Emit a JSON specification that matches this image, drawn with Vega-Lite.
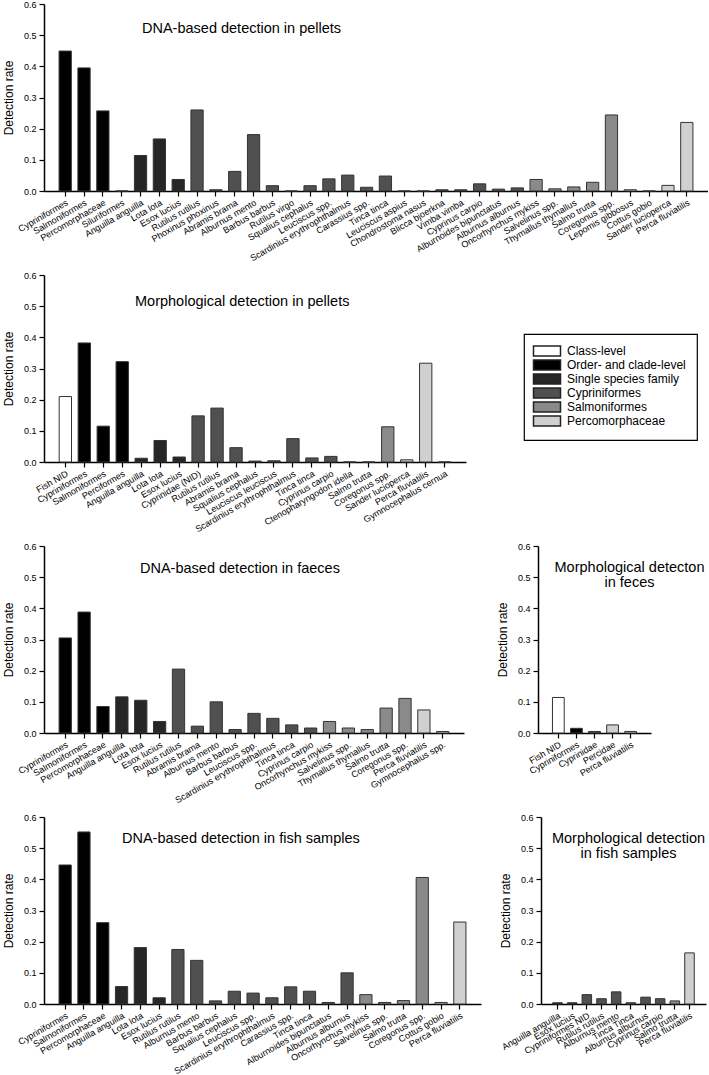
{
"$schema": "https://vega.github.io/schema/vega-lite/v6.json",
"autosize": {"type": "pad"},
"padding": {"left": 2, "top": 0, "right": 0, "bottom": 0},
"background": "white",
"spacing": 8,
"config": {
  "font": "Liberation Sans",
  "view": {"stroke": null},
  "scale": {"bandPaddingInner": 0.35, "bandPaddingOuter": 0.8},
  "axis": {"domainColor": "black", "domainWidth": 1.5, "tickColor": "black", "tickWidth": 1.2, "tickSize": 5, "labelFont": "Liberation Sans", "labelFontSize": 9, "labelColor": "black", "titleFont": "Liberation Sans", "titleFontSize": 12, "titleFontWeight": "normal", "titleColor": "black", "grid": false},
  "axisX": {"labelAngle": -30, "labelPadding": 2},
  "axisY": {"titlePadding": 8, "labelPadding": 3},
  "title": {"font": "Liberation Sans", "fontSize": 14.5, "fontWeight": "normal", "color": "black", "frame": "group", "baseline": "top", "lineHeight": 15},
  "legend": {"strokeColor": "black", "strokeWidth": 1.2, "padding": 11, "fillColor": "white", "symbolType": "M-2.7,-1H2.7V1H-2.7Z", "symbolSize": 100, "symbolOffset": 6, "symbolStrokeColor": "#222", "symbolStrokeWidth": 1.5, "symbolOpacity": 1, "labelFont": "Liberation Sans", "labelFontSize": 12, "labelColor": "black", "labelOffset": 14, "rowPadding": -4, "titleFontSize": 0}
},
"datasets": {
  "p1": [
    {"taxon": "Cypriniformes", "rate": 0.449, "group": "Order- and clade-level"},
    {"taxon": "Salmoniformes", "rate": 0.395, "group": "Order- and clade-level"},
    {"taxon": "Percomorphaceae", "rate": 0.257, "group": "Order- and clade-level"},
    {"taxon": "Siluriformes", "rate": 0, "group": "Order- and clade-level"},
    {"taxon": "Anguilla anguilla", "rate": 0.114, "group": "Single species family"},
    {"taxon": "Lota lota", "rate": 0.167, "group": "Single species family"},
    {"taxon": "Esox lucius", "rate": 0.037, "group": "Single species family"},
    {"taxon": "Rutilus rutilus", "rate": 0.26, "group": "Cypriniformes"},
    {"taxon": "Phoxinus phoxinus", "rate": 0.004, "group": "Cypriniformes"},
    {"taxon": "Abramis brama", "rate": 0.063, "group": "Cypriniformes"},
    {"taxon": "Alburnus mento", "rate": 0.181, "group": "Cypriniformes"},
    {"taxon": "Barbus barbus", "rate": 0.017, "group": "Cypriniformes"},
    {"taxon": "Rutilus virgo", "rate": 0, "group": "Cypriniformes"},
    {"taxon": "Squalius cephalus", "rate": 0.017, "group": "Cypriniformes"},
    {"taxon": "Leuciscus spp.", "rate": 0.039, "group": "Cypriniformes"},
    {"taxon": "Scardinius erythrophthalmus", "rate": 0.051, "group": "Cypriniformes"},
    {"taxon": "Carassius spp.", "rate": 0.012, "group": "Cypriniformes"},
    {"taxon": "Tinca tinca", "rate": 0.048, "group": "Cypriniformes"},
    {"taxon": "Leuciscus aspius", "rate": 0, "group": "Cypriniformes"},
    {"taxon": "Chondrostoma nasus", "rate": 0, "group": "Cypriniformes"},
    {"taxon": "Blicca bjoerkna", "rate": 0.004, "group": "Cypriniformes"},
    {"taxon": "Vimba vimba", "rate": 0.004, "group": "Cypriniformes"},
    {"taxon": "Cyprinus carpio", "rate": 0.023, "group": "Cypriniformes"},
    {"taxon": "Alburnoides bipunctatus", "rate": 0.006, "group": "Cypriniformes"},
    {"taxon": "Alburnus alburnus", "rate": 0.01, "group": "Cypriniformes"},
    {"taxon": "Oncorhynchus mykiss", "rate": 0.037, "group": "Salmoniformes"},
    {"taxon": "Salvelinus spp.", "rate": 0.007, "group": "Salmoniformes"},
    {"taxon": "Thymallus thymallus", "rate": 0.013, "group": "Salmoniformes"},
    {"taxon": "Salmo trutta", "rate": 0.028, "group": "Salmoniformes"},
    {"taxon": "Coregonus spp.", "rate": 0.244, "group": "Salmoniformes"},
    {"taxon": "Lepomis gibbosus", "rate": 0.004, "group": "Percomorphaceae"},
    {"taxon": "Cottus gobio", "rate": 0, "group": "Percomorphaceae"},
    {"taxon": "Sander lucioperca", "rate": 0.018, "group": "Percomorphaceae"},
    {"taxon": "Perca fluviatilis", "rate": 0.22, "group": "Percomorphaceae"}
  ],
  "p2": [
    {"taxon": "Fish NID", "rate": 0.21, "group": "Class-level"},
    {"taxon": "Cypriniformes", "rate": 0.382, "group": "Order- and clade-level"},
    {"taxon": "Salmoniformes", "rate": 0.115, "group": "Order- and clade-level"},
    {"taxon": "Perciformes", "rate": 0.322, "group": "Order- and clade-level"},
    {"taxon": "Anguilla anguilla", "rate": 0.012, "group": "Single species family"},
    {"taxon": "Lota lota", "rate": 0.069, "group": "Single species family"},
    {"taxon": "Esox lucius", "rate": 0.016, "group": "Single species family"},
    {"taxon": "Cyprinidae (NID)", "rate": 0.148, "group": "Cypriniformes"},
    {"taxon": "Rutilus rutilus", "rate": 0.173, "group": "Cypriniformes"},
    {"taxon": "Abramis brama", "rate": 0.046, "group": "Cypriniformes"},
    {"taxon": "Squalius cephalus", "rate": 0.003, "group": "Cypriniformes"},
    {"taxon": "Leuciscus leuciscus", "rate": 0.004, "group": "Cypriniformes"},
    {"taxon": "Scardinius erythrophthalmus", "rate": 0.075, "group": "Cypriniformes"},
    {"taxon": "Tinca tinca", "rate": 0.013, "group": "Cypriniformes"},
    {"taxon": "Cyprinus carpio", "rate": 0.018, "group": "Cypriniformes"},
    {"taxon": "Ctenopharyngodon idella", "rate": 0, "group": "Cypriniformes"},
    {"taxon": "Salmo trutta", "rate": 0, "group": "Salmoniformes"},
    {"taxon": "Coregonus spp.", "rate": 0.113, "group": "Salmoniformes"},
    {"taxon": "Sander lucioperca", "rate": 0.007, "group": "Percomorphaceae"},
    {"taxon": "Perca fluviatilis", "rate": 0.317, "group": "Percomorphaceae"},
    {"taxon": "Gymnocephalus cernua", "rate": 0, "group": "Percomorphaceae"}
  ],
  "p3": [
    {"taxon": "Cypriniformes", "rate": 0.305, "group": "Order- and clade-level"},
    {"taxon": "Salmoniformes", "rate": 0.388, "group": "Order- and clade-level"},
    {"taxon": "Percomorphaceae", "rate": 0.085, "group": "Order- and clade-level"},
    {"taxon": "Anguilla anguilla", "rate": 0.116, "group": "Single species family"},
    {"taxon": "Lota lota", "rate": 0.105, "group": "Single species family"},
    {"taxon": "Esox lucius", "rate": 0.037, "group": "Single species family"},
    {"taxon": "Rutilus rutilus", "rate": 0.205, "group": "Cypriniformes"},
    {"taxon": "Abramis brama", "rate": 0.022, "group": "Cypriniformes"},
    {"taxon": "Alburnus mento", "rate": 0.1, "group": "Cypriniformes"},
    {"taxon": "Barbus barbus", "rate": 0.011, "group": "Cypriniformes"},
    {"taxon": "Leuciscus spp.", "rate": 0.063, "group": "Cypriniformes"},
    {"taxon": "Scardinius erythrophthalmus", "rate": 0.047, "group": "Cypriniformes"},
    {"taxon": "Tinca tinca", "rate": 0.026, "group": "Cypriniformes"},
    {"taxon": "Cyprinus carpio", "rate": 0.016, "group": "Cypriniformes"},
    {"taxon": "Oncorhynchus mykiss", "rate": 0.037, "group": "Salmoniformes"},
    {"taxon": "Salvelinus spp.", "rate": 0.016, "group": "Salmoniformes"},
    {"taxon": "Thymallus thymallus", "rate": 0.011, "group": "Salmoniformes"},
    {"taxon": "Salmo trutta", "rate": 0.08, "group": "Salmoniformes"},
    {"taxon": "Coregonus spp.", "rate": 0.111, "group": "Salmoniformes"},
    {"taxon": "Perca fluviatilis", "rate": 0.074, "group": "Percomorphaceae"},
    {"taxon": "Gymnocephalus spp.", "rate": 0.005, "group": "Percomorphaceae"}
  ],
  "p4": [
    {"taxon": "Fish NID", "rate": 0.114, "group": "Class-level"},
    {"taxon": "Cypriniformes", "rate": 0.015, "group": "Order- and clade-level"},
    {"taxon": "Cyprinidae", "rate": 0.005, "group": "Cypriniformes"},
    {"taxon": "Percidae", "rate": 0.026, "group": "Percomorphaceae"},
    {"taxon": "Perca fluviatilis", "rate": 0.005, "group": "Percomorphaceae"}
  ],
  "p5": [
    {"taxon": "Cypriniformes", "rate": 0.446, "group": "Order- and clade-level"},
    {"taxon": "Salmoniformes", "rate": 0.552, "group": "Order- and clade-level"},
    {"taxon": "Percomorphaceae", "rate": 0.261, "group": "Order- and clade-level"},
    {"taxon": "Anguilla anguilla", "rate": 0.056, "group": "Single species family"},
    {"taxon": "Lota lota", "rate": 0.181, "group": "Single species family"},
    {"taxon": "Esox lucius", "rate": 0.02, "group": "Single species family"},
    {"taxon": "Rutilus rutilus", "rate": 0.175, "group": "Cypriniformes"},
    {"taxon": "Alburnus mento", "rate": 0.14, "group": "Cypriniformes"},
    {"taxon": "Barbus barbus", "rate": 0.01, "group": "Cypriniformes"},
    {"taxon": "Squalius cephalus", "rate": 0.041, "group": "Cypriniformes"},
    {"taxon": "Leuciscus spp.", "rate": 0.035, "group": "Cypriniformes"},
    {"taxon": "Scardinius erythrophthalmus", "rate": 0.02, "group": "Cypriniformes"},
    {"taxon": "Carassius spp.", "rate": 0.055, "group": "Cypriniformes"},
    {"taxon": "Tinca tinca", "rate": 0.041, "group": "Cypriniformes"},
    {"taxon": "Alburnoides bipunctatus", "rate": 0.005, "group": "Cypriniformes"},
    {"taxon": "Alburnus alburnus", "rate": 0.1, "group": "Cypriniformes"},
    {"taxon": "Oncorhynchus mykiss", "rate": 0.03, "group": "Salmoniformes"},
    {"taxon": "Salvelinus spp.", "rate": 0.005, "group": "Salmoniformes"},
    {"taxon": "Salmo trutta", "rate": 0.011, "group": "Salmoniformes"},
    {"taxon": "Coregonus spp.", "rate": 0.406, "group": "Salmoniformes"},
    {"taxon": "Cottus gobio", "rate": 0.005, "group": "Percomorphaceae"},
    {"taxon": "Perca fluviatilis", "rate": 0.263, "group": "Percomorphaceae"}
  ],
  "p6": [
    {"taxon": "Anguilla anguilla", "rate": 0.004, "group": "Single species family"},
    {"taxon": "Esox lucius", "rate": 0.004, "group": "Single species family"},
    {"taxon": "Cypriniformes NID", "rate": 0.03, "group": "Cypriniformes"},
    {"taxon": "Rutilus rutilus", "rate": 0.017, "group": "Cypriniformes"},
    {"taxon": "Alburnus mento", "rate": 0.039, "group": "Cypriniformes"},
    {"taxon": "Tinca Tinca", "rate": 0.004, "group": "Cypriniformes"},
    {"taxon": "Alburnus alburnus", "rate": 0.022, "group": "Cypriniformes"},
    {"taxon": "Cyprinus carpio", "rate": 0.017, "group": "Cypriniformes"},
    {"taxon": "Salmo trutta", "rate": 0.01, "group": "Salmoniformes"},
    {"taxon": "Perca fluviatilis", "rate": 0.164, "group": "Percomorphaceae"}
  ]
},
"vconcat": [
  {
    "data": {"name": "p1"},
    "width": 664, "height": 187,
    "title": {"text": "DNA-based detection in pellets", "anchor": "start", "dx": 98, "offset": -36},
    "mark": {"type": "bar", "stroke": "#333", "strokeWidth": 1},
    "encoding": {
      "x": {"field": "taxon", "type": "nominal", "sort": null, "axis": {"title": null}},
      "y": {"field": "rate", "type": "quantitative", "scale": {"domain": [0, 0.6], "nice": false}, "axis": {"title": "Detection rate", "values": [0, 0.1, 0.2, 0.3, 0.4, 0.5, 0.6], "format": ".1f"}},
      "color": {"field": "group", "type": "nominal", "scale": {"domain": ["Class-level", "Order- and clade-level", "Single species family", "Cypriniformes", "Salmoniformes", "Percomorphaceae"], "range": ["#ffffff", "#000000", "#262626", "#505050", "#8a8a8a", "#d0d0d0"]}, "legend": {"orient": "none", "legendX": 480, "legendY": 330, "title": null}}
    }
  },
  {
    "data": {"name": "p2"},
    "width": 422, "height": 187,
    "title": {"text": "Morphological detection in pellets", "anchor": "start", "dx": 91, "offset": -38},
    "mark": {"type": "bar", "stroke": "#333", "strokeWidth": 1},
    "encoding": {
      "x": {"field": "taxon", "type": "nominal", "sort": null, "axis": {"title": null}},
      "y": {"field": "rate", "type": "quantitative", "scale": {"domain": [0, 0.6], "nice": false}, "axis": {"title": "Detection rate", "values": [0, 0.1, 0.2, 0.3, 0.4, 0.5, 0.6], "format": ".1f"}},
      "color": {"field": "group", "type": "nominal", "scale": {"domain": ["Class-level", "Order- and clade-level", "Single species family", "Cypriniformes", "Salmoniformes", "Percomorphaceae"], "range": ["#ffffff", "#000000", "#262626", "#505050", "#8a8a8a", "#d0d0d0"]}, "legend": {"orient": "none", "legendX": 480, "legendY": 330, "title": null}}
    }
  },
  {
    "spacing": 32,
    "hconcat": [
      {
        "data": {"name": "p3"},
        "width": 420, "height": 187,
        "title": {"text": "DNA-based detection in faeces", "anchor": "start", "dx": 96, "offset": -34},
        "mark": {"type": "bar", "stroke": "#333", "strokeWidth": 1},
        "encoding": {
          "x": {"field": "taxon", "type": "nominal", "sort": null, "axis": {"title": null}},
          "y": {"field": "rate", "type": "quantitative", "scale": {"domain": [0, 0.6], "nice": false}, "axis": {"title": "Detection rate", "values": [0, 0.1, 0.2, 0.3, 0.4, 0.5, 0.6], "format": ".1f"}},
          "color": {"field": "group", "type": "nominal", "scale": {"domain": ["Class-level", "Order- and clade-level", "Single species family", "Cypriniformes", "Salmoniformes", "Percomorphaceae"], "range": ["#ffffff", "#000000", "#262626", "#505050", "#8a8a8a", "#d0d0d0"]}, "legend": {"orient": "none", "legendX": 480, "legendY": 330, "title": null}}
        }
      },
      {
        "data": {"name": "p4"},
        "width": 113, "height": 187,
        "title": {"text": ["Morphological detecton", "in feces"], "anchor": "middle", "dx": 35, "offset": -48},
        "mark": {"type": "bar", "stroke": "#333", "strokeWidth": 1},
        "encoding": {
          "x": {"field": "taxon", "type": "nominal", "sort": null, "axis": {"title": null}},
          "y": {"field": "rate", "type": "quantitative", "scale": {"domain": [0, 0.6], "nice": false}, "axis": {"title": "Detection rate", "values": [0, 0.1, 0.2, 0.3, 0.4, 0.5, 0.6], "format": ".1f"}},
          "color": {"field": "group", "type": "nominal", "scale": {"domain": ["Class-level", "Order- and clade-level", "Single species family", "Cypriniformes", "Salmoniformes", "Percomorphaceae"], "range": ["#ffffff", "#000000", "#262626", "#505050", "#8a8a8a", "#d0d0d0"]}, "legend": {"orient": "none", "legendX": 480, "legendY": 330, "title": null}}
        }
      }
    ]
  },
  {
    "spacing": 18,
    "hconcat": [
      {
        "data": {"name": "p5"},
        "width": 437, "height": 187,
        "title": {"text": "DNA-based detection in fish samples", "anchor": "start", "dx": 78, "offset": -33},
        "mark": {"type": "bar", "stroke": "#333", "strokeWidth": 1},
        "encoding": {
          "x": {"field": "taxon", "type": "nominal", "sort": null, "axis": {"title": null}},
          "y": {"field": "rate", "type": "quantitative", "scale": {"domain": [0, 0.6], "nice": false}, "axis": {"title": "Detection rate", "values": [0, 0.1, 0.2, 0.3, 0.4, 0.5, 0.6], "format": ".1f"}},
          "color": {"field": "group", "type": "nominal", "scale": {"domain": ["Class-level", "Order- and clade-level", "Single species family", "Cypriniformes", "Salmoniformes", "Percomorphaceae"], "range": ["#ffffff", "#000000", "#262626", "#505050", "#8a8a8a", "#d0d0d0"]}, "legend": {"orient": "none", "legendX": 480, "legendY": 330, "title": null}}
        }
      },
      {
        "data": {"name": "p6"},
        "width": 165, "height": 187,
        "title": {"text": ["Morphological detection", "in fish samples"], "anchor": "middle", "dx": 5, "offset": -48},
        "mark": {"type": "bar", "stroke": "#333", "strokeWidth": 1},
        "encoding": {
          "x": {"field": "taxon", "type": "nominal", "sort": null, "axis": {"title": null}},
          "y": {"field": "rate", "type": "quantitative", "scale": {"domain": [0, 0.6], "nice": false}, "axis": {"title": "Detection rate", "values": [0, 0.1, 0.2, 0.3, 0.4, 0.5, 0.6], "format": ".1f"}},
          "color": {"field": "group", "type": "nominal", "scale": {"domain": ["Class-level", "Order- and clade-level", "Single species family", "Cypriniformes", "Salmoniformes", "Percomorphaceae"], "range": ["#ffffff", "#000000", "#262626", "#505050", "#8a8a8a", "#d0d0d0"]}, "legend": {"orient": "none", "legendX": 480, "legendY": 330, "title": null}}
        }
      }
    ]
  }
]
}
